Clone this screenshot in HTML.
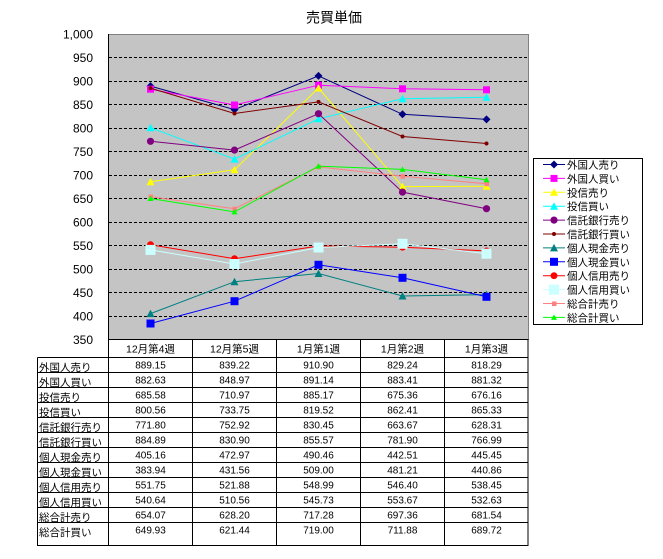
<!DOCTYPE html>
<html><head><meta charset="utf-8">
<style>
html,body{margin:0;padding:0;background:#fff;}
svg{display:block;}
text{font-family:"Liberation Sans","Noto Sans CJK JP",sans-serif;fill:#000;}
</style></head>
<body>
<svg width="663" height="559" viewBox="0 0 663 559" xmlns="http://www.w3.org/2000/svg">
<defs>
<marker id="mDia" markerUnits="userSpaceOnUse" markerWidth="10" markerHeight="10" refX="5" refY="5" overflow="visible"><path d="M5,1 L9,5 L5,9 L1,5Z" fill="#000080"/></marker>
<marker id="mSqM" markerUnits="userSpaceOnUse" markerWidth="10" markerHeight="10" refX="5" refY="5" overflow="visible"><rect x="1.5" y="1.5" width="7" height="7" fill="#ff00ff"/></marker>
<marker id="mTriY" markerUnits="userSpaceOnUse" markerWidth="10" markerHeight="10" refX="5" refY="5" overflow="visible"><path d="M5,1 L9,8.5 L1,8.5Z" fill="#ffff00"/></marker>
<marker id="mTriC" markerUnits="userSpaceOnUse" markerWidth="10" markerHeight="10" refX="5" refY="5" overflow="visible"><path d="M5,1 L9,8.5 L1,8.5Z" fill="#00ffff"/></marker>
<marker id="mCirP" markerUnits="userSpaceOnUse" markerWidth="10" markerHeight="10" refX="5" refY="5" overflow="visible"><circle cx="5" cy="5" r="3.6" fill="#800080"/></marker>
<marker id="mDotR" markerUnits="userSpaceOnUse" markerWidth="10" markerHeight="10" refX="5" refY="5" overflow="visible"><circle cx="5" cy="5" r="2" fill="#800000"/></marker>
<marker id="mTriT" markerUnits="userSpaceOnUse" markerWidth="10" markerHeight="10" refX="5" refY="5" overflow="visible"><path d="M5,1 L9,8.5 L1,8.5Z" fill="#008080"/></marker>
<marker id="mSqB" markerUnits="userSpaceOnUse" markerWidth="10" markerHeight="10" refX="5" refY="5" overflow="visible"><rect x="1" y="1" width="8" height="8" fill="#0000ff"/></marker>
<marker id="mCirR" markerUnits="userSpaceOnUse" markerWidth="10" markerHeight="10" refX="5" refY="5" overflow="visible"><circle cx="5" cy="5" r="3.4" fill="#ff0000"/></marker>
<marker id="mSqL" markerUnits="userSpaceOnUse" markerWidth="12" markerHeight="12" refX="6" refY="6" overflow="visible"><rect x="1" y="1" width="10" height="10" fill="#ccffff"/></marker>
<marker id="mSqS" markerUnits="userSpaceOnUse" markerWidth="10" markerHeight="10" refX="5" refY="5" overflow="visible"><rect x="3" y="3" width="4.5" height="4.5" fill="#ff8080"/></marker>
<marker id="mTriG" markerUnits="userSpaceOnUse" markerWidth="10" markerHeight="10" refX="5" refY="5" overflow="visible"><path d="M5,2 L8,7.5 L2,7.5Z" fill="#00ff00"/></marker>
</defs>

<!-- title -->
<text x="334" y="22.5" font-size="14" text-anchor="middle">売買単価</text>

<!-- plot area -->
<rect x="108.5" y="34.5" width="420" height="305" fill="#c4c4c4" stroke="#808080" stroke-width="1"/>
<g stroke="#000" stroke-width="1" stroke-dasharray="3,2">
<line x1="109" y1="57.5" x2="528" y2="57.5"/>
<line x1="109" y1="81.5" x2="528" y2="81.5"/>
<line x1="109" y1="104.5" x2="528" y2="104.5"/>
<line x1="109" y1="128.5" x2="528" y2="128.5"/>
<line x1="109" y1="151.5" x2="528" y2="151.5"/>
<line x1="109" y1="175.5" x2="528" y2="175.5"/>
<line x1="109" y1="198.5" x2="528" y2="198.5"/>
<line x1="109" y1="222.5" x2="528" y2="222.5"/>
<line x1="109" y1="245.5" x2="528" y2="245.5"/>
<line x1="109" y1="269.5" x2="528" y2="269.5"/>
<line x1="109" y1="292.5" x2="528" y2="292.5"/>
<line x1="109" y1="316.5" x2="528" y2="316.5"/>
</g>
<line x1="108.5" y1="34" x2="108.5" y2="340" stroke="#000" stroke-width="1"/>

<!-- y labels -->
<g font-size="12" text-anchor="end">
<text x="93" y="38.5">1,000</text>
<text x="93" y="62">950</text>
<text x="93" y="85.5">900</text>
<text x="93" y="109">850</text>
<text x="93" y="132.5">800</text>
<text x="93" y="156">750</text>
<text x="93" y="179.5">700</text>
<text x="93" y="203">650</text>
<text x="93" y="226.5">600</text>
<text x="93" y="250">550</text>
<text x="93" y="273.5">500</text>
<text x="93" y="297">450</text>
<text x="93" y="320.5">400</text>
<text x="93" y="344">350</text>
</g>

<!-- series -->
<g fill="none" stroke-width="1">
<polyline points="150.5,86.1 234.5,109.6 318.5,75.9 402.5,114.3 486.5,119.4" stroke="#000080" marker-start="url(#mDia)" marker-mid="url(#mDia)" marker-end="url(#mDia)"/>
<polyline points="150.5,89.2 234.5,105.0 318.5,85.2 402.5,88.8 486.5,89.8" stroke="#ff00ff" marker-start="url(#mSqM)" marker-mid="url(#mSqM)" marker-end="url(#mSqM)"/>
<polyline points="150.5,181.8 234.5,169.8 318.5,88.0 402.5,186.6 486.5,186.2" stroke="#ffff00" marker-start="url(#mTriY)" marker-mid="url(#mTriY)" marker-end="url(#mTriY)"/>
<polyline points="150.5,127.7 234.5,159.1 318.5,118.8 402.5,98.7 486.5,97.3" stroke="#00ffff" marker-start="url(#mTriC)" marker-mid="url(#mTriC)" marker-end="url(#mTriC)"/>
<polyline points="150.5,141.3 234.5,150.1 318.5,113.7 402.5,192.1 486.5,208.7" stroke="#800080" marker-start="url(#mCirP)" marker-mid="url(#mCirP)" marker-end="url(#mCirP)"/>
<polyline points="150.5,88.1 234.5,113.5 318.5,101.9 402.5,136.5 486.5,143.5" stroke="#800000" marker-start="url(#mDotR)" marker-mid="url(#mDotR)" marker-end="url(#mDotR)"/>
<polyline points="150.5,313.6 234.5,281.7 318.5,273.5 402.5,296.0 486.5,294.6" stroke="#008080" marker-start="url(#mTriT)" marker-mid="url(#mTriT)" marker-end="url(#mTriT)"/>
<polyline points="150.5,323.5 234.5,301.2 318.5,264.8 402.5,277.8 486.5,296.8" stroke="#0000ff" marker-start="url(#mSqB)" marker-mid="url(#mSqB)" marker-end="url(#mSqB)"/>
<polyline points="150.5,244.7 234.5,258.7 318.5,246.0 402.5,247.2 486.5,250.9" stroke="#ff0000" marker-start="url(#mCirR)" marker-mid="url(#mCirR)" marker-end="url(#mCirR)"/>
<polyline points="150.5,249.9 234.5,264.0 318.5,247.5 402.5,243.8 486.5,253.7" stroke="#ccffff" marker-start="url(#mSqL)" marker-mid="url(#mSqL)" marker-end="url(#mSqL)"/>
<polyline points="150.5,196.6 234.5,208.7 318.5,166.9 402.5,176.2 486.5,183.7" stroke="#ff8080" marker-start="url(#mSqS)" marker-mid="url(#mSqS)" marker-end="url(#mSqS)"/>
<polyline points="150.5,198.5 234.5,211.9 318.5,166.1 402.5,169.4 486.5,179.8" stroke="#00ff00" marker-start="url(#mTriG)" marker-mid="url(#mTriG)" marker-end="url(#mTriG)"/>
</g>

<!-- legend -->
<rect x="533.5" y="158.5" width="109" height="166" fill="#fff" stroke="#000" stroke-width="1"/>
<g fill="none" stroke-width="1">
<polyline points="543,164.5 554,164.5 565,164.5" stroke="#000080" marker-mid="url(#mDia)"/>
<polyline points="543,178.4 554,178.4 565,178.4" stroke="#ff00ff" marker-mid="url(#mSqM)"/>
<polyline points="543,192.3 554,192.3 565,192.3" stroke="#ffff00" marker-mid="url(#mTriY)"/>
<polyline points="543,206.2 554,206.2 565,206.2" stroke="#00ffff" marker-mid="url(#mTriC)"/>
<polyline points="543,220.1 554,220.1 565,220.1" stroke="#800080" marker-mid="url(#mCirP)"/>
<polyline points="543,234.0 554,234.0 565,234.0" stroke="#800000" marker-mid="url(#mDotR)"/>
<polyline points="543,247.9 554,247.9 565,247.9" stroke="#008080" marker-mid="url(#mTriT)"/>
<polyline points="543,261.8 554,261.8 565,261.8" stroke="#0000ff" marker-mid="url(#mSqB)"/>
<polyline points="543,275.7 554,275.7 565,275.7" stroke="#ff0000" marker-mid="url(#mCirR)"/>
<polyline points="543,289.6 554,289.6 565,289.6" stroke="#ccffff" marker-mid="url(#mSqL)"/>
<polyline points="543,303.5 554,303.5 565,303.5" stroke="#ff8080" marker-mid="url(#mSqS)"/>
<polyline points="543,317.4 554,317.4 565,317.4" stroke="#00ff00" marker-mid="url(#mTriG)"/>
</g>
<g font-size="10.5">
<text x="567" y="168.5">外国人売り</text>
<text x="567" y="182.4">外国人買い</text>
<text x="567" y="196.3">投信売り</text>
<text x="567" y="210.2">投信買い</text>
<text x="567" y="224.1">信託銀行売り</text>
<text x="567" y="238.0">信託銀行買い</text>
<text x="567" y="251.9">個人現金売り</text>
<text x="567" y="265.8">個人現金買い</text>
<text x="567" y="279.7">個人信用売り</text>
<text x="567" y="293.6">個人信用買い</text>
<text x="567" y="307.5">総合計売り</text>
<text x="567" y="321.4">総合計買い</text>
</g>

<!-- data table -->
<g stroke="#000" stroke-width="1" fill="none">
<line x1="108" y1="339.5" x2="528.5" y2="339.5"/>
<line x1="37.5" y1="357.5" x2="528" y2="357.5"/>
<line x1="37.5" y1="372.5" x2="528" y2="372.5"/>
<line x1="37.5" y1="387.5" x2="528" y2="387.5"/>
<line x1="37.5" y1="402.5" x2="528" y2="402.5"/>
<line x1="37.5" y1="417.5" x2="528" y2="417.5"/>
<line x1="37.5" y1="432.5" x2="528" y2="432.5"/>
<line x1="37.5" y1="447.5" x2="528" y2="447.5"/>
<line x1="37.5" y1="462.5" x2="528" y2="462.5"/>
<line x1="37.5" y1="477.5" x2="528" y2="477.5"/>
<line x1="37.5" y1="492.5" x2="528" y2="492.5"/>
<line x1="37.5" y1="507.5" x2="528" y2="507.5"/>
<line x1="37.5" y1="522.5" x2="528" y2="522.5"/>
<line x1="37.5" y1="545.5" x2="528" y2="545.5"/>
<line x1="37.5" y1="357.5" x2="37.5" y2="546"/>
<line x1="108.5" y1="339" x2="108.5" y2="546"/>
<line x1="192.5" y1="339" x2="192.5" y2="546"/>
<line x1="276.5" y1="339" x2="276.5" y2="546"/>
<line x1="360.5" y1="339" x2="360.5" y2="546"/>
<line x1="444.5" y1="339" x2="444.5" y2="546"/>
<line x1="528" y1="339" x2="528" y2="546"/>
</g>

<g font-size="10.5" text-anchor="middle">
<text x="150.5" y="352.5">12月第4週</text>
<text x="234.5" y="352.5">12月第5週</text>
<text x="318.5" y="352.5">1月第1週</text>
<text x="402.5" y="352.5">1月第2週</text>
<text x="486.5" y="352.5">1月第3週</text>
</g>

<g font-size="10.5">
<text x="39" y="371">外国人売り</text>
<text x="39" y="386">外国人買い</text>
<text x="39" y="401">投信売り</text>
<text x="39" y="416">投信買い</text>
<text x="39" y="431">信託銀行売り</text>
<text x="39" y="446">信託銀行買い</text>
<text x="39" y="461">個人現金売り</text>
<text x="39" y="476">個人現金買い</text>
<text x="39" y="491">個人信用売り</text>
<text x="39" y="506">個人信用買い</text>
<text x="39" y="521">総合計売り</text>
<text x="39" y="536">総合計買い</text>
</g>

<g font-size="10" text-anchor="middle">
<text x="150.5" y="368.5">889.15</text><text x="234.5" y="368.5">839.22</text><text x="318.5" y="368.5">910.90</text><text x="402.5" y="368.5">829.24</text><text x="486.5" y="368.5">818.29</text>
<text x="150.5" y="383.5">882.63</text><text x="234.5" y="383.5">848.97</text><text x="318.5" y="383.5">891.14</text><text x="402.5" y="383.5">883.41</text><text x="486.5" y="383.5">881.32</text>
<text x="150.5" y="398.5">685.58</text><text x="234.5" y="398.5">710.97</text><text x="318.5" y="398.5">885.17</text><text x="402.5" y="398.5">675.36</text><text x="486.5" y="398.5">676.16</text>
<text x="150.5" y="413.5">800.56</text><text x="234.5" y="413.5">733.75</text><text x="318.5" y="413.5">819.52</text><text x="402.5" y="413.5">862.41</text><text x="486.5" y="413.5">865.33</text>
<text x="150.5" y="428.5">771.80</text><text x="234.5" y="428.5">752.92</text><text x="318.5" y="428.5">830.45</text><text x="402.5" y="428.5">663.67</text><text x="486.5" y="428.5">628.31</text>
<text x="150.5" y="443.5">884.89</text><text x="234.5" y="443.5">830.90</text><text x="318.5" y="443.5">855.57</text><text x="402.5" y="443.5">781.90</text><text x="486.5" y="443.5">766.99</text>
<text x="150.5" y="458.5">405.16</text><text x="234.5" y="458.5">472.97</text><text x="318.5" y="458.5">490.46</text><text x="402.5" y="458.5">442.51</text><text x="486.5" y="458.5">445.45</text>
<text x="150.5" y="473.5">383.94</text><text x="234.5" y="473.5">431.56</text><text x="318.5" y="473.5">509.00</text><text x="402.5" y="473.5">481.21</text><text x="486.5" y="473.5">440.86</text>
<text x="150.5" y="488.5">551.75</text><text x="234.5" y="488.5">521.88</text><text x="318.5" y="488.5">548.99</text><text x="402.5" y="488.5">546.40</text><text x="486.5" y="488.5">538.45</text>
<text x="150.5" y="503.5">540.64</text><text x="234.5" y="503.5">510.56</text><text x="318.5" y="503.5">545.73</text><text x="402.5" y="503.5">553.67</text><text x="486.5" y="503.5">532.63</text>
<text x="150.5" y="518.5">654.07</text><text x="234.5" y="518.5">628.20</text><text x="318.5" y="518.5">717.28</text><text x="402.5" y="518.5">697.36</text><text x="486.5" y="518.5">681.54</text>
<text x="150.5" y="533.5">649.93</text><text x="234.5" y="533.5">621.44</text><text x="318.5" y="533.5">719.00</text><text x="402.5" y="533.5">711.88</text><text x="486.5" y="533.5">689.72</text>
</g>
</svg>
</body></html>
